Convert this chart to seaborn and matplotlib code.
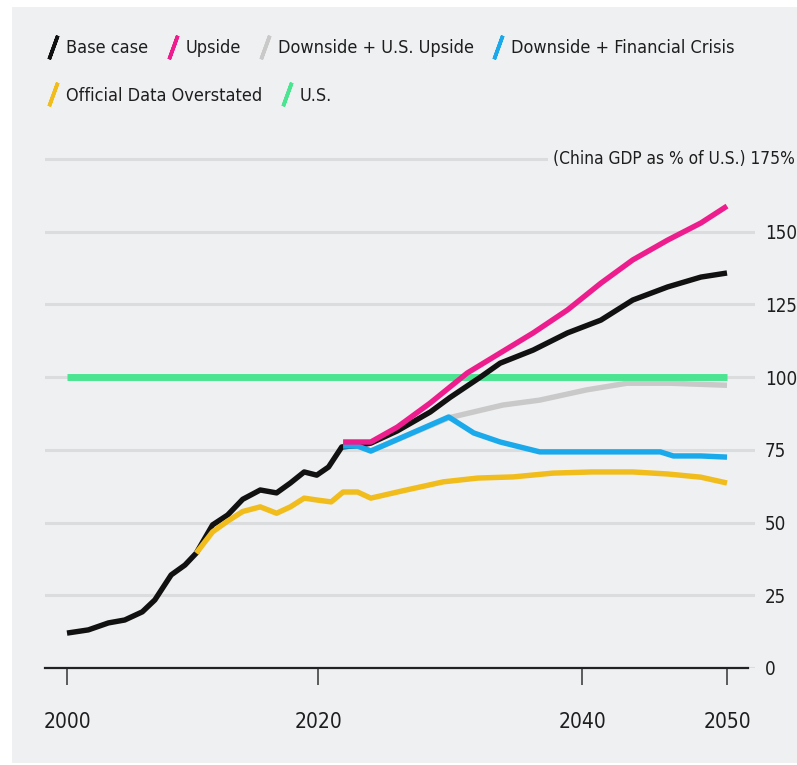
import matplotlib
matplotlib.use("Agg")
import matplotlib.pyplot as plt
from matplotlib.lines import Line2D
from matplotlib.patches import Rectangle
import seaborn as sns
import pandas as pd
import numpy as np

# ---------- data (China GDP as % of U.S.) ----------
base_years = [2000, 2001.7, 2003.3, 2004.6, 2006.0, 2007.0, 2008.3, 2009.4, 2010.3, 2011.6,
              2012.8, 2014.0, 2015.4, 2016.7, 2017.8, 2018.9, 2019.9, 2020.8, 2021.8, 2023.0,
              2024.0, 2026.0, 2028.5, 2030.0, 2032.3, 2033.8, 2036.3, 2038.9, 2041.3, 2043.5,
              2045.9, 2048.2, 2050]
base_vals = [12.0, 13.1, 15.5, 16.5, 19.3, 23.4, 32.0, 35.4, 39.5, 49.2,
             52.6, 58.0, 61.2, 60.2, 63.6, 67.4, 66.3, 69.1, 76.0, 76.5,
             77.3, 81.5, 88.0, 93.0, 100.0, 104.8, 109.3, 115.2, 119.6, 126.5,
             131.0, 134.4, 135.8]

upside_years = [2021.9, 2024.0, 2026.0, 2028.5, 2031.3, 2033.8, 2036.3, 2038.9, 2041.3,
                2043.5, 2045.9, 2048.2, 2050]
upside_vals = [77.7, 77.7, 82.8, 91.1, 101.4, 108.3, 115.2, 123.1, 132.3,
               140.3, 147.1, 153.0, 158.8]

us_upside_years = [2021.9, 2023.0, 2024.0, 2029.9, 2034.0, 2036.8, 2040.3, 2043.1, 2046.1, 2050]
us_upside_vals = [76.3, 76.3, 74.6, 86.0, 90.4, 92.1, 95.6, 97.9, 97.9, 97.2]

crisis_years = [2021.9, 2023.0, 2024.0, 2029.9, 2031.8, 2033.8, 2036.8, 2045.4, 2046.3, 2048.2, 2050]
crisis_vals = [76.3, 76.3, 74.6, 86.3, 80.8, 77.7, 74.3, 74.3, 72.9, 72.9, 72.5]

official_years = [2010.3, 2011.6, 2012.8, 2014.0, 2015.4, 2016.7, 2017.8, 2018.9, 2020.0, 2021.0,
                  2021.9, 2023.0, 2024.0, 2026.5, 2029.5, 2032.1, 2034.8, 2037.8, 2040.7, 2043.5,
                  2045.9, 2048.2, 2050]
official_vals = [39.5, 46.8, 50.5, 53.8, 55.4, 53.2, 55.4, 58.4, 57.7, 57.1,
                 60.5, 60.5, 58.4, 61.0, 64.0, 65.3, 65.7, 67.0, 67.4, 67.4,
                 66.7, 65.6, 63.6]

us_years = [2000, 2050]
us_vals = [100, 100]

labels = ["Base case", "Upside", "Downside + U.S. Upside", "Downside + Financial Crisis",
          "Official Data Overstated", "U.S."]
colors = ["#111111", "#ee1d8e", "#c9c9c9", "#1aaaec", "#f1bd1c", "#4be592"]
x_ticks = [2000, 2020, 2040, 2050]
y_ticks = [0, 25, 50, 75, 100, 125, 150, 175]

series = {
    "Base case": (base_years, base_vals),
    "Upside": (upside_years, upside_vals),
    "Downside + U.S. Upside": (us_upside_years, us_upside_vals),
    "Downside + Financial Crisis": (crisis_years, crisis_vals),
    "Official Data Overstated": (official_years, official_vals),
    "U.S.": (us_years, us_vals),
}
palette = dict(zip(labels, colors))
draw_order = ["Downside + U.S. Upside", "U.S.", "Base case", "Official Data Overstated",
              "Downside + Financial Crisis", "Upside"]

# the source chart's time axis is not evenly spaced: piecewise-linear scale
seg_rate = [12.55, 13.2, 14.5]   # relative width of one year in 2000-20, 2020-40, 2040-50


def fwd(x):
    x = np.asarray(x, dtype=float)
    p1 = 20 * seg_rate[0]
    p2 = p1 + 20 * seg_rate[1]
    return np.where(x < 2020, (x - 2000) * seg_rate[0],
                    np.where(x < 2040, p1 + (x - 2020) * seg_rate[1],
                             p2 + (x - 2040) * seg_rate[2]))


def inv(p):
    p = np.asarray(p, dtype=float)
    p1 = 20 * seg_rate[0]
    p2 = p1 + 20 * seg_rate[1]
    return np.where(p < p1, 2000 + p / seg_rate[0],
                    np.where(p < p2, 2020 + (p - p1) / seg_rate[1],
                             2040 + (p - p2) / seg_rate[2]))


# ---------- style ----------
bg = "#eff0f2"
sns.set_theme(style="white")
plt.rcParams["font.family"] = ["DejaVu Sans"]
plt.rcParams["font.stretch"] = "condensed"
txt = "#1e1e1e"

fig = plt.figure(figsize=(7.97, 7.65), dpi=100)
fig.patch.set_facecolor("white")
fig.patches.append(Rectangle((12 / 797, 2 / 765), 785 / 797, 756 / 765,
                             transform=fig.transFigure, facecolor=bg, edgecolor="none", zorder=-5))

ax = fig.add_axes([0.0565, 0.1268, 0.8908, 0.6844])
ax.set_facecolor(bg)
ax.set_xscale("function", functions=(fwd, inv))

for name in draw_order:
    xs, ys = series[name]
    df = pd.DataFrame({"year": xs, "value": ys})
    sns.lineplot(data=df, x="year", y="value", ax=ax, color=palette[name],
                 linewidth=5.0 if name == "U.S." else 3.9, estimator=None, sort=False,
                 solid_capstyle="butt", solid_joinstyle="round")

ax.set_xlim(1998.25, 2051.93)
ax.set_ylim(0, 180)
ax.set_xlabel("")
ax.set_ylabel("")

# axes / grid
for side in ["top", "left", "right"]:
    ax.spines[side].set_visible(False)
ax.spines["bottom"].set_color("#222222")
ax.spines["bottom"].set_linewidth(1.6)
ax.spines["bottom"].set_bounds(1998.25, 2051.45)
ax.spines["bottom"].set_zorder(5)

ax.set_yticks(y_ticks)
ax.set_yticklabels([str(v) for v in y_ticks[:-1]] + [""])
ax.yaxis.tick_right()
ax.tick_params(axis="y", length=0, pad=7, labelsize=13.5, labelcolor=txt)
ax.yaxis.grid(True, color="#dbdcdd", linewidth=2.2)
ax.xaxis.grid(False)
ax.set_axisbelow(True)

ax.set_xticks(x_ticks)
ax.set_xticklabels([str(v) for v in x_ticks])
ax.xaxis.set_minor_locator(matplotlib.ticker.NullLocator())
ax.tick_params(axis="x", direction="out", length=12, width=1.1, color="#333333",
               pad=20, labelsize=15, labelcolor=txt, bottom=True)

ax.annotate("(China GDP as % of U.S.) 175%", xy=(1, 175), xycoords=("axes fraction", "data"),
            xytext=(29, 0), textcoords="offset points", ha="right", va="center",
            fontsize=12.4, color=txt,
            bbox=dict(boxstyle="square,pad=0.3", facecolor=bg, edgecolor="none"))

# legend with slash markers
handles = [Line2D([], [], color=c, marker=(2, 2, -20), markersize=18, markeredgewidth=2.6,
                  linestyle="none") for c in colors]
common = dict(frameon=False, handlelength=0.8, handletextpad=0.3,
              fontsize=13, labelcolor=txt, borderaxespad=0, borderpad=0)
fig.legend(handles[:4], labels[:4], ncol=4, loc="center left", columnspacing=0.95,
           bbox_to_anchor=(0.058, 0.937), **common)
fig.legend(handles[4:], labels[4:], ncol=2, loc="center left", columnspacing=0.95,
           bbox_to_anchor=(0.058, 0.875), **common)

fig.savefig("out.png", dpi=100, facecolor=fig.get_facecolor())
